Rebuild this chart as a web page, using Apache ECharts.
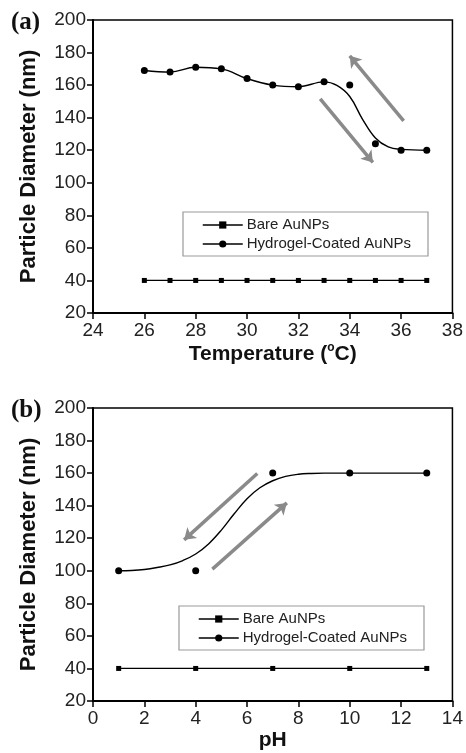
<!DOCTYPE html>
<html>
<head>
<meta charset="utf-8">
<script src="https://cdn.jsdelivr.net/npm/echarts@6/dist/echarts.min.js"></script>
<style>
  html, body { margin: 0; padding: 0; background: #fff; }
  #chart { width: 466px; height: 753px; }
</style>
</head>
<body>
<div id="chart"></div>
<script>
// (a) temperature sweep
const tempX = [26, 27, 28, 29, 30, 31, 32, 33, 34, 35, 36, 37];
const tempBare = [40, 40, 40, 40, 40, 40, 40, 40, 40, 40, 40, 40];
const tempCoated = [169, 168, 171, 170, 164, 160, 159, 162, 160, 124, 120, 120];
// fitted curve
const tempFitX = [26, 27, 28, 29, 30, 31, 32, 33, 33.5, 34, 34.5, 35, 35.5, 36, 37];
const tempFitY = [169, 168, 171, 170, 164, 160, 159, 162, 159.8, 153, 139, 127.5, 122, 120.5, 120];
const tempArrows = [
    [[32.85, 151.5], [34.9, 112.5]],
    [[36.1, 138], [34.0, 178]]
];

// (b) pH sweep
const phX = [1, 4, 7, 10, 13];
const phBare = [40, 40, 40, 40, 40];
const phCoated = [100, 100, 160, 160, 160];
const phFitX = [1, 1.5, 2, 2.5, 3, 3.5, 4, 4.5, 5, 5.5, 6, 6.5, 7, 7.5, 8, 8.5, 9, 10, 13];
const phFitY = [100, 100.2, 100.8, 102, 103.6, 106.3, 110.3, 116.5, 125, 135, 144.3, 151, 155.3, 158, 159.3, 159.8, 160, 160, 160];
const phArrows = [
    [[6.4, 159.8], [3.55, 119]],
    [[4.65, 101], [7.55, 141.7]]
];

const tempTicks = [24, 38, 2];
const phTicks = [0, 14, 2];
const yTicks = [20, 200, 20];

const legendNames = ['Bare AuNPs', 'Hydrogel-Coated AuNPs'];

const pair = (xs, ys) => xs.map((x, i) => [x, ys[i]]);

function xAxisCfg(ticks, gridIndex, name, rich) {
    return {
        type: 'value', gridIndex: gridIndex,
        min: ticks[0], max: ticks[1], interval: ticks[2],
        name: name, nameLocation: 'middle', nameGap: 29,
        nameTextStyle: { fontFamily: 'Liberation Sans', fontWeight: 'bold', fontSize: 21, color: '#111', rich: rich },
        axisLine: { show: true, onZero: false, lineStyle: { color: '#000', width: 2 } },
        axisTick: { show: true, inside: false, length: 6, lineStyle: { color: '#000', width: 1.5 } },
        axisLabel: { fontFamily: 'Liberation Sans', fontSize: 19, color: '#222', margin: 8 },
        splitLine: { show: false }
    };
}

function yAxisCfg(gridIndex) {
    return {
        type: 'value', gridIndex: gridIndex,
        min: yTicks[0], max: yTicks[1], interval: yTicks[2],
        name: 'Particle Diameter (nm)', nameLocation: 'middle', nameGap: 53,
        nameTextStyle: { fontFamily: 'Liberation Sans', fontWeight: 'bold', fontSize: 22, color: '#111' },
        axisLine: { show: true, onZero: false, lineStyle: { color: '#000', width: 2 } },
        axisTick: { show: true, inside: false, length: 6, lineStyle: { color: '#000', width: 1.5 } },
        axisLabel: { fontFamily: 'Liberation Sans', fontSize: 19, color: '#222', margin: 7 },
        splitLine: { show: false }
    };
}

function legendCfg(left, top) {
    return {
        data: legendNames, orient: 'vertical', left: left, top: top,
        padding: [5, 17, 4, 19], itemGap: 3,
        itemWidth: 40, itemHeight: 9,
        borderColor: '#999', borderWidth: 1.2, borderRadius: 0,
        backgroundColor: '#fff',
        lineStyle: { color: '#000', width: 1.5, opacity: 1, type: 'solid' },
        itemStyle: { color: '#000' },
        textStyle: { fontFamily: 'Liberation Sans', fontSize: 15, color: '#222', lineHeight: 16, padding: [0, 0, 0, -1] },
        selectedMode: false
    };
}

function seriesFor(gi, xs, bare, coated, fitX, fitY, arrows) {
    return [
        {
            name: 'Bare AuNPs', type: 'line', xAxisIndex: gi, yAxisIndex: gi,
            data: pair(xs, bare), symbol: 'rect', symbolSize: 5,
            lineStyle: { color: '#000', width: 1.3 }, itemStyle: { color: '#000' }
        },
        {
            name: 'fit', type: 'line', xAxisIndex: gi, yAxisIndex: gi,
            data: pair(fitX, fitY), smooth: 0.4, showSymbol: false, symbol: 'none',
            lineStyle: { color: '#000', width: 1.4 }, silent: true
        },
        {
            name: 'Hydrogel-Coated AuNPs', type: 'line', xAxisIndex: gi, yAxisIndex: gi,
            data: pair(xs, coated), symbol: 'circle', symbolSize: 7,
            lineStyle: { color: '#000', width: 0, opacity: 0 }, itemStyle: { color: '#000' }
        },
        {
            type: 'lines', coordinateSystem: 'cartesian2d', xAxisIndex: gi, yAxisIndex: gi,
            data: arrows.map(a => ({ coords: a })),
            symbol: ['none', 'arrow'], symbolSize: [9, 11],
            lineStyle: { color: '#8a8a8a', width: 3.5, opacity: 1, curveness: 0 },
            silent: true, z: 1
        }
    ];
}

const chart = echarts.init(document.getElementById('chart'));
chart.setOption({
    animation: false,
    backgroundColor: '#fff',
    title: [
        { text: '(a)', left: 6, top: 5, textStyle: { fontFamily: 'Liberation Serif', fontWeight: 'bold', fontSize: 25, color: '#111' } },
        { text: '(b)', left: 6, top: 393, textStyle: { fontFamily: 'Liberation Serif', fontWeight: 'bold', fontSize: 25, color: '#111' } }
    ],
    grid: [
        { left: 93, top: 20, width: 361, height: 293, show: true, borderColor: '#000', borderWidth: 1.5, backgroundColor: 'transparent' },
        { left: 93, top: 408, width: 361, height: 293, show: true, borderColor: '#000', borderWidth: 1.5, backgroundColor: 'transparent' }
    ],
    xAxis: [
        xAxisCfg(tempTicks, 0, 'Temperature ({sup|o}C)', { sup: { fontSize: 12, fontWeight: 'bold', verticalAlign: 'top', padding: [0, 0, 12, 0], fontFamily: 'Liberation Sans', color: '#111' } }),
        xAxisCfg(phTicks, 1, 'pH')
    ],
    yAxis: [yAxisCfg(0), yAxisCfg(1)],
    legend: [legendCfg(183, 212), legendCfg(179, 606)],
    series: [
        ...seriesFor(0, tempX, tempBare, tempCoated, tempFitX, tempFitY, tempArrows),
        ...seriesFor(1, phX, phBare, phCoated, phFitX, phFitY, phArrows)
    ]
});
</script>
</body>
</html>
